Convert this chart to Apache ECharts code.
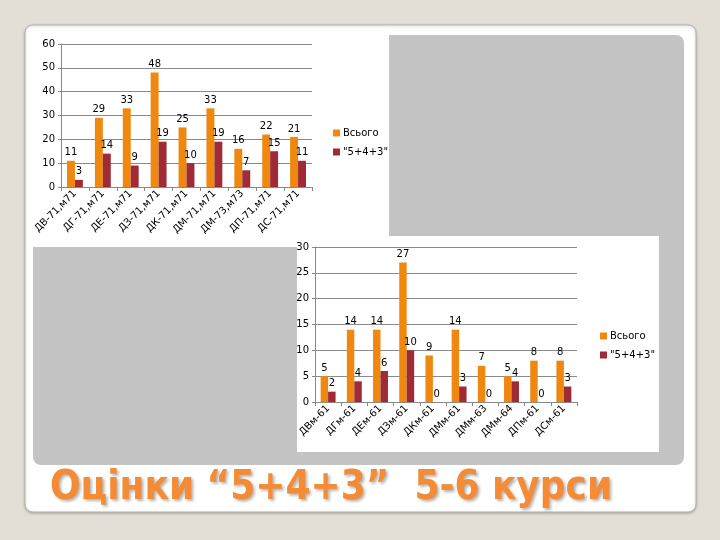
<!DOCTYPE html>
<html><head><meta charset="utf-8">
<script src="https://cdn.jsdelivr.net/npm/echarts@6/dist/echarts.min.js"></script>
<style>html,body{margin:0;padding:0;background:#e3dfd7}#c{width:720px;height:540px}</style>
</head><body><div id="c"></div>
<script>
var topCategories = ['ДВ-71,м71','ДГ-71,м71','ДЕ-71,м71','ДЗ-71,м71','ДК-71,м71','ДМ-71,м71','ДМ-73,м73','ДП-71,м71','ДС-71,м71'];
var topTotal = [11,29,33,48,25,33,16,22,21];
var topGood = [3,14,9,19,10,19,7,15,11];
var botCategories = ['ДВм-61','ДГм-61','ДЕм-61','ДЗм-61','ДКм-61','ДМм-61','ДМм-63','ДМм-64','ДПм-61','ДСм-61'];
var botTotal = [5,14,14,27,9,14,7,5,8,8];
var botGood = [2,4,6,10,0,3,0,4,0,3];
var seriesNames = ['Всього','"5+4+3"'];
var titleText = 'Оцінки “5+4+3”  5-6 курси';

var ORANGE = '#F0880F', RED = '#9E2B36';
var FONT = 'DejaVu Sans';
var chart = echarts.init(document.getElementById('c'));

function xAxis(gi, cats){
  return {type:'category', gridIndex:gi, data:cats,
    axisLine:{lineStyle:{color:'#888',width:1}},
    axisTick:{show:true,length:4,lineStyle:{color:'#888'}},
    axisLabel:{rotate:45,fontFamily:FONT,fontSize:10,color:'#000',margin:5,interval:0}};
}
function yAxis(gi, max, itv){
  return {type:'value', gridIndex:gi, min:0, max:max, interval:itv,
    axisLine:{show:true,lineStyle:{color:'#888'}},
    axisTick:{show:true,length:3,lineStyle:{color:'#888'}},
    splitLine:{lineStyle:{color:'#8a8a8a'}},
    axisLabel:{fontFamily:FONT,fontSize:10,color:'#000',margin:6}};
}
function bar(name, gi, data, color){
  return {name:name, type:'bar', xAxisIndex:gi, yAxisIndex:gi, data:data,
    barGap:'0%', barCategoryGap:'43%', itemStyle:{color:color},
    label:{show:true,position:'top',fontFamily:FONT,fontSize:10,color:'#000',distance:3},
    animation:false};
}
function legend(left, top){
  return {orient:'vertical', left:left, top:top, data:seriesNames, icon:'rect',
    itemWidth:7, itemHeight:7, itemGap:9,
    textStyle:{fontFamily:FONT,fontSize:10,color:'#000',padding:[0,0,0,-2]}};
}

chart.setOption({
  animation:false,
  graphic:[
    {type:'rect', shape:{x:25,y:25,width:671,height:487,r:8}, style:{fill:'#fff',stroke:'#b8b4ae',lineWidth:1,shadowBlur:3,shadowColor:'rgba(0,0,0,0.25)',shadowOffsetY:1}, z:-10},
    {type:'rect', shape:{x:33,y:35,width:651,height:430,r:8}, style:{fill:'#c4c4c4'}, z:-9},
    {type:'rect', shape:{x:28,y:28,width:361,height:219}, style:{fill:'#fff'}, z:-8},
    {type:'rect', shape:{x:297,y:236,width:362,height:216}, style:{fill:'#fff'}, z:-8},
    {type:'text', left:50, top:469, style:{text:titleText, fill:'#F58B35', font:'bold 40px "DejaVu Sans Condensed"', textShadowColor:'rgba(0,0,0,0.3)', textShadowBlur:3, textShadowOffsetX:2, textShadowOffsetY:2}}
  ],
  grid:[
    {left:61, top:44, width:251, height:143},
    {left:315, top:247, width:262, height:155}
  ],
  xAxis:[xAxis(0, topCategories), xAxis(1, botCategories)],
  yAxis:[yAxis(0, 60, 10), yAxis(1, 30, 5)],
  legend:[legend(328,123), legend(595,326)],
  series:[
    bar(seriesNames[0],0,topTotal,ORANGE),
    bar(seriesNames[1],0,topGood,RED),
    bar(seriesNames[0],1,botTotal,ORANGE),
    bar(seriesNames[1],1,botGood,RED)
  ]
});
</script></body></html>
